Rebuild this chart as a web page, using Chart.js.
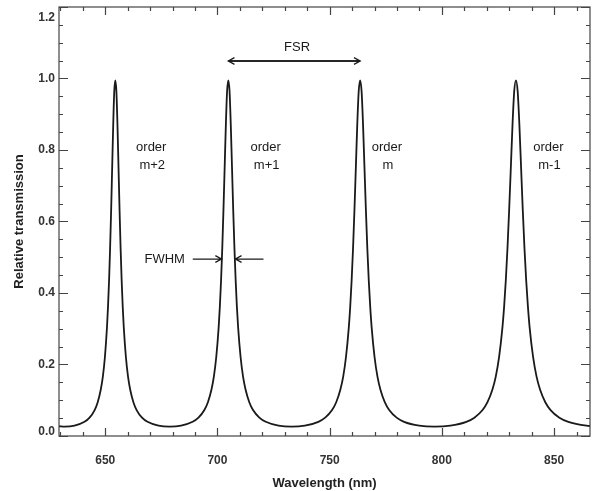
<!DOCTYPE html>
<html>
<head>
<meta charset="utf-8">
<script src="https://cdn.jsdelivr.net/npm/chart.js@4.4.0/dist/chart.umd.min.js"></script>
<style>
  body { margin: 0; background: #fff; }
</style>
</head>
<body>
<canvas id="myChart" width="593" height="491"></canvas>
<script>
// wavelength (nm) and relative transmission
const wavelength = [
  629.33, 631.93, 636.32, 640.77, 643.02, 645.28, 646.65, 648.02, 648.94, 649.86,
  650.78, 651.24, 651.71, 652.17, 652.64, 653.10, 653.57, 654.03, 654.50, 654.97,
  655.44, 655.91, 656.38, 656.85, 657.32, 657.79, 658.26, 659.21, 660.16, 661.11,
  662.55, 663.99, 666.40, 668.83, 673.75, 678.74,
  683.81, 688.95, 691.55, 694.17, 695.75, 697.34, 698.40, 699.47, 700.54, 701.07,
  701.61, 702.15, 702.68, 703.22, 703.76, 704.30, 704.85, 705.39, 705.93, 706.48,
  707.02, 707.57, 708.12, 708.66, 709.21, 710.31, 711.41, 712.52, 714.19, 715.86,
  718.67, 721.50, 727.22, 733.04,
  738.95, 744.96, 748.00, 751.07, 752.92, 754.78, 756.03, 757.27, 758.53, 759.16,
  759.79, 760.42, 761.05, 761.68, 762.31, 762.95, 763.58, 764.22, 764.86, 765.50,
  766.14, 766.78, 767.42, 768.07, 768.71, 770.00, 771.30, 772.60, 774.56, 776.53,
  779.83, 783.16, 789.91, 796.78,
  803.77, 810.89, 814.49, 818.13, 820.32, 822.53, 824.01, 825.50, 826.99, 827.74,
  828.48, 829.23, 829.98, 830.74, 831.49, 832.24, 833.00, 833.76, 834.52, 835.28,
  836.04, 836.80, 837.57, 838.34, 839.10, 840.64, 842.19, 843.74, 846.08, 848.43,
  852.37, 856.36, 864.43, 867.70
];
const transmission = [
  0.0273, 0.0263, 0.0290, 0.0397, 0.0513, 0.0726, 0.0945, 0.130, 0.166, 0.221,
  0.304, 0.362, 0.435, 0.525, 0.633, 0.753, 0.873, 0.965, 0.995, 0.965,
  0.873, 0.753, 0.633, 0.525, 0.435, 0.362, 0.304, 0.221, 0.166, 0.130,
  0.0945, 0.0726, 0.0513, 0.0397, 0.0290, 0.0263,
  0.0290, 0.0397, 0.0513, 0.0726, 0.0945, 0.130, 0.166, 0.221, 0.304, 0.362,
  0.435, 0.525, 0.633, 0.753, 0.873, 0.965, 0.995, 0.965, 0.873, 0.753,
  0.633, 0.525, 0.435, 0.362, 0.304, 0.221, 0.166, 0.130, 0.0945, 0.0726,
  0.0513, 0.0397, 0.0290, 0.0263,
  0.0290, 0.0397, 0.0513, 0.0726, 0.0945, 0.130, 0.166, 0.221, 0.304, 0.362,
  0.435, 0.525, 0.633, 0.753, 0.873, 0.965, 0.995, 0.965, 0.873, 0.753,
  0.633, 0.525, 0.435, 0.362, 0.304, 0.221, 0.166, 0.130, 0.0945, 0.0726,
  0.0513, 0.0397, 0.0290, 0.0263,
  0.0290, 0.0397, 0.0513, 0.0726, 0.0945, 0.130, 0.166, 0.221, 0.304, 0.362,
  0.435, 0.525, 0.633, 0.753, 0.873, 0.965, 0.995, 0.965, 0.873, 0.753,
  0.633, 0.525, 0.435, 0.362, 0.304, 0.221, 0.166, 0.130, 0.0945, 0.0726,
  0.0513, 0.0397, 0.0290, 0.0273
];
const xTickLabels = [650, 700, 750, 800, 850];
const yTickLabels = [0.0, 0.2, 0.4, 0.6, 0.8, 1.0, 1.2];
const orderNames = ["m+2", "m+1", "m", "m-1"];
const peakPos = [654.50, 704.85, 763.58, 833.00];

const ink = "#1a1a1a";
const fontFamily = "'Liberation Sans', Arial, sans-serif";
const textFont = "13px " + fontFamily;

let points = wavelength.map((w, i) => ({ x: w, y: transmission[i] }));

// IDL-style frame with inward ticks on all four sides, plus the text marks
const frameAndNotes = {
  id: "frameAndNotes",
  afterDatasetsDraw(chart) {
    let c = chart.ctx;
    let a = chart.chartArea;
    let xs = chart.scales.x;
    let ys = chart.scales.y;

    c.save();
    c.strokeStyle = "#444";
    c.lineWidth = 1.2;
    c.strokeRect(a.left, a.top, a.right - a.left, a.bottom - a.top);

    // x ticks every 10 nm, major every 50
    for (let v = 630; v <= xs.max; v += 10) {
      if (v < xs.min) continue;
      let px = Math.round(xs.getPixelForValue(v)) + 0.5;
      let len = v % 50 === 0 ? 8 : 4;
      c.beginPath();
      c.moveTo(px, a.bottom); c.lineTo(px, a.bottom - len);
      c.moveTo(px, a.top); c.lineTo(px, a.top + len);
      c.stroke();
    }
    // y ticks every 0.05, major every 0.2
    for (let k = 0; k <= 24; k++) {
      let py = Math.round(ys.getPixelForValue(k * 0.05)) + 0.5;
      let len = k % 4 === 0 ? 9 : 4;
      c.beginPath();
      c.moveTo(a.left, py); c.lineTo(a.left + len, py);
      c.moveTo(a.right, py); c.lineTo(a.right - len, py);
      c.stroke();
    }

    c.fillStyle = ink;
    c.font = textFont;
    c.textAlign = "center";
    c.textBaseline = "middle";

    let labelX = [670.5, 721.5, 775.5, 847.5];
    orderNames.forEach((name, i) => {
      let px = xs.getPixelForValue(labelX[i]);
      c.fillText("order", px, ys.getPixelForValue(0.807));
      c.fillText(name, px + 1, ys.getPixelForValue(0.756));
    });

    // FSR double arrow between orders m+1 and m
    c.strokeStyle = ink;
    c.lineWidth = 1.3;
    let yA = ys.getPixelForValue(1.049);
    let x1 = xs.getPixelForValue(peakPos[1]);
    let x2 = xs.getPixelForValue(peakPos[2]);
    arrow(c, x2, yA, x1, yA);
    arrow(c, x1, yA, x2, yA);
    c.fillText("FSR", xs.getPixelForValue(735.5), ys.getPixelForValue(1.087));

    // FWHM arrows on order m+1
    let yF = ys.getPixelForValue(0.495);
    c.fillText("FWHM", xs.getPixelForValue(676.5), yF);
    arrow(c, xs.getPixelForValue(689.0), yF, xs.getPixelForValue(701.8), yF);
    arrow(c, xs.getPixelForValue(720.5), yF, xs.getPixelForValue(708.0), yF);
    c.restore();
  },
};

function arrow(c, fx, fy, tx, ty) {
  let ang = Math.atan2(ty - fy, tx - fx);
  c.beginPath();
  c.moveTo(fx, fy);
  c.lineTo(tx, ty);
  c.moveTo(tx - 7 * Math.cos(ang - 0.5), ty - 7 * Math.sin(ang - 0.5));
  c.lineTo(tx, ty);
  c.lineTo(tx - 7 * Math.cos(ang + 0.5), ty - 7 * Math.sin(ang + 0.5));
  c.stroke();
}

const tickFont = { family: fontFamily, size: 12, weight: "bold" };
const titleFont = { family: fontFamily, size: 13, weight: "bold" };

// end labels on the y axis sit inside the frame, like the original
function yLabel(v) {
  let s = v.toFixed(1);
  if (v === 1.2) return ["", s];
  if (v === 0) return [s, ""];
  return s;
}
function yTickFont(ctx) {
  let v = ctx.tick ? ctx.tick.value : null;
  if (v === 1.2) return { family: fontFamily, size: 12, weight: "bold", lineHeight: "22px" };
  if (v === 0) return { family: fontFamily, size: 12, weight: "bold", lineHeight: "9px" };
  return tickFont;
}

var myChart = new Chart(document.getElementById("myChart"), {
  type: "line",
  data: {
    datasets: [
      {
        data: points,
        borderColor: ink,
        borderWidth: 1.8,
        pointRadius: 0,
        cubicInterpolationMode: "monotone",
        fill: false,
      },
    ],
  },
  options: {
    responsive: false,
    animation: false,
    layout: { padding: { top: 7, right: 3, left: 0, bottom: 0 } },
    plugins: { legend: { display: false }, tooltip: { enabled: false } },
    scales: {
      x: {
        type: "linear",
        min: 629.4,
        max: 866,
        grid: { display: false, drawTicks: false },
        border: { display: false },
        afterBuildTicks: (s) => { s.ticks = xTickLabels.map((v) => ({ value: v })); },
        afterFit: (s) => { s.height = 55; s.paddingLeft = 0; s.paddingRight = 0; },
        ticks: { color: "#333", font: tickFont, padding: 17, maxRotation: 0, callback: (v) => String(v) },
        title: {
          display: true,
          text: "Wavelength (nm)",
          color: "#222",
          font: titleFont,
          padding: { top: 0, bottom: 0 },
        },
      },
      y: {
        type: "linear",
        min: 0,
        max: 1.2,
        grid: { display: false, drawTicks: false },
        border: { display: false },
        afterBuildTicks: (s) => { s.ticks = yTickLabels.map((v) => ({ value: v })); },
        afterFit: (s) => { s.width = 59; s.paddingTop = 0; s.paddingBottom = 0; },
        ticks: { color: "#333", font: yTickFont, padding: 4, callback: yLabel },
        title: {
          display: true,
          text: "Relative transmission",
          color: "#222",
          font: titleFont,
          padding: { top: 12, bottom: 0 },
        },
      },
    },
  },
  plugins: [frameAndNotes],
});
</script>
</body>
</html>
